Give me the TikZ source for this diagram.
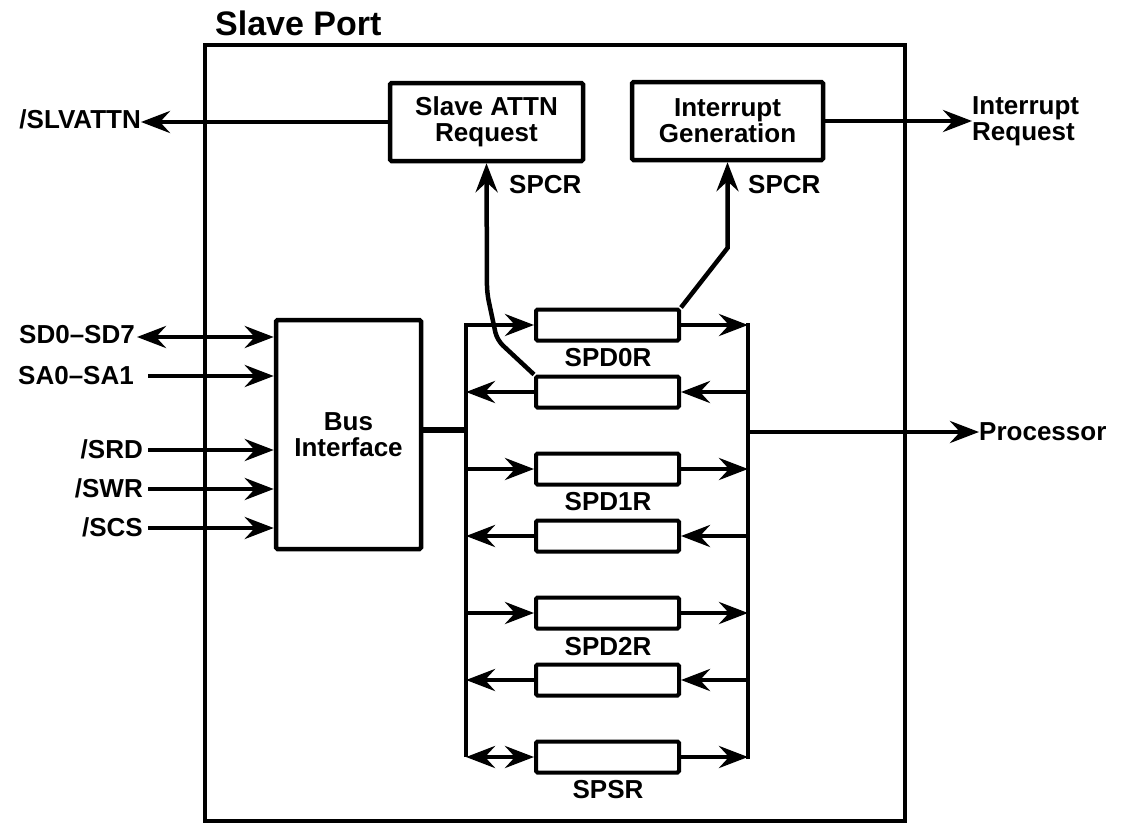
\documentclass[tikz,border=0pt]{standalone}
\usepackage{fontspec}
\setmainfont{Liberation Sans}
\usetikzlibrary{arrows.meta}
\tikzset{
  lbl/.style={font=\fontsize{26}{26}\selectfont\bfseries, inner sep=0pt},
  blk/.style={draw, line width=4.5pt, rounded corners=1.5pt, inner sep=0pt, align=center,
              font=\fontsize{26}{26}\selectfont\bfseries},
  reg/.style={draw, line width=4pt, rounded corners=1.5pt, inner sep=0pt,
              minimum width=143pt, minimum height=31pt},
  wire/.style={line width=4.5pt},
  tipstyle/.style={},
  arr/.style={line width=4.5pt, -{Stealth[length=29pt,width=22pt,inset=10pt]}},
  darr/.style={line width=4.5pt, {Stealth[length=29pt,width=22pt,inset=10pt]}-{Stealth[length=29pt,width=22pt,inset=10pt]}},
}
\begin{document}
\begin{tikzpicture}[x=1pt,y=-1pt]
\useasboundingbox (0,0) rectangle (1122,827);
% outer box
\node[draw, line width=4.5pt, minimum width=700pt, minimum height=776pt, inner sep=0pt] (port) at (555,433) {};
\node[font=\fontsize{34}{34}\selectfont\bfseries, inner sep=0pt, anchor=base west] (title) at (215,35) {Slave Port};

% top blocks
\node[blk, minimum width=193pt, minimum height=78pt] (sa) at (486.5,122) {Slave ATTN\\Request};
\node[blk, minimum width=191pt, minimum height=78pt] (ig) at (727.5,121) {Interrupt\\Generation};
\node[blk, minimum width=145pt, minimum height=229pt] (bi) at (348.5,434.5) {Bus\\Interface};

% registers
\node[reg] (r1) at (607.5,325) {};
\node[reg] (r2) at (607.5,392) {};
\node[reg] (r3) at (607.5,469) {};
\node[reg] (r4) at (607.5,536) {};
\node[reg] (r5) at (607.5,613) {};
\node[reg] (r6) at (607.5,680) {};
\node[reg] (r7) at (607.5,757) {};
\node[lbl] (l1) at (608,358) {SPD0R};
\node[lbl] (l3) at (608,502) {SPD1R};
\node[lbl] (l5) at (608,647) {SPD2R};
\node[lbl] (l7) at (608,790) {SPSR};

% bus coordinates
\coordinate (L1) at (466,325);
\coordinate (L2) at (466,392);
\coordinate (L3) at (466,469);
\coordinate (L4) at (466,536);
\coordinate (L5) at (466,613);
\coordinate (L6) at (466,680);
\coordinate (L7) at (466,757);
\coordinate (LB) at (466,430);
\coordinate (R1) at (748,325);
\coordinate (R2) at (748,392);
\coordinate (R3) at (748,469);
\coordinate (R4) at (748,536);
\coordinate (R5) at (748,613);
\coordinate (R6) at (748,680);
\coordinate (R7) at (748,757);
\coordinate (RP) at (748,432);

% buses
\draw[arr] (L7) -- (L1) -- (r1.west);
\draw[wire, line cap=rect] (R1) -- (R7);
\draw[line width=6pt] (bi.east |- LB) -- (LB);

% register arrows
\draw[arr] (r1.east) -- (R1);
\draw[arr] (R2) -- (r2.east);
\draw[arr] (r2.west) -- (L2);
\draw[arr] (L3) -- (r3.west);
\draw[arr] (r3.east) -- (R3);
\draw[arr] (R4) -- (r4.east);
\draw[arr] (r4.west) -- (L4);
\draw[arr] (L5) -- (r5.west);
\draw[arr] (r5.east) -- (R5);
\draw[arr] (R6) -- (r6.east);
\draw[arr] (r6.west) -- (L6);
\draw[darr] (L7) -- (r7.west);
\draw[arr] (r7.east) -- (R7);

% control arrows
\draw[arr, rounded corners=8pt] (r2.north west) -- (497,340) -- (487,293) -- (sa.south);
\draw[arr] (r1.north east) -- (727.5,248) -- (ig.south);
\node[lbl, anchor=west] (spcr1) at (509,185) {SPCR};
\node[lbl, anchor=west] (spcr2) at (748,185) {SPCR};

% outputs
\node[lbl, anchor=east] (slv) at (141,119) {/SLVATTN};
\draw[arr] (sa.west) -- (slv.east |- sa.west);
\node[lbl, anchor=west, align=left] (irq) at (972,121) {Interrupt\\Request};
\draw[arr] (ig.east) -- (irq.west |- ig.east);
\node[lbl, anchor=west] (proc) at (979,432) {Processor};
\draw[arr] (RP) -- (proc.west |- RP);

% inputs
\node[lbl, anchor=east] (sd) at (135,335) {SD0–SD7};
\node[lbl, anchor=east] (sa01) at (134,376) {SA0–SA1};
\node[lbl, anchor=east] (srd) at (143,449) {/SRD};
\node[lbl, anchor=east] (swr) at (143,488) {/SWR};
\node[lbl, anchor=east] (scs) at (143,527) {/SCS};
\draw[darr] (137,337) -- (bi.west |- 0,337);
\draw[arr] (148,376) -- (bi.west |- 0,376);
\draw[arr] (148,450) -- (bi.west |- 0,450);
\draw[arr] (148,489) -- (bi.west |- 0,489);
\draw[arr] (148,528) -- (bi.west |- 0,528);
\end{tikzpicture}
\end{document}
